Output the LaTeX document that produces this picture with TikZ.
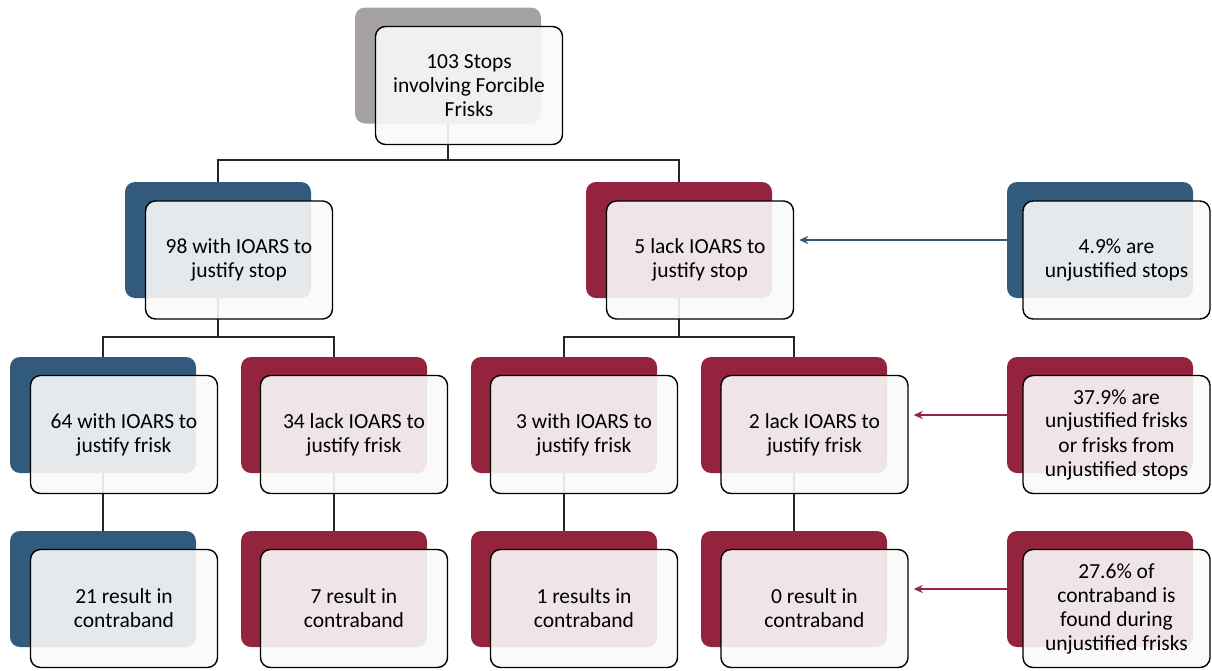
\documentclass[tikz,border=0pt]{standalone}
\usepackage{fontspec}
\setmainfont{Carlito}
\usetikzlibrary{arrows.meta}
\definecolor{navy}{RGB}{50,90,125}
\definecolor{wine}{RGB}{148,35,62}
\definecolor{greyb}{RGB}{166,162,162}
\definecolor{frontfill}{RGB}{249,249,249}
\begin{document}
\begin{tikzpicture}[x=1pt,y=-1pt,
  back/.style={rounded corners=10pt, minimum width=186pt, minimum height=116pt, inner sep=0pt, fill=#1},
  front/.style={draw=black, line width=1.4pt, rounded corners=10pt, fill=frontfill, fill opacity=0.9, text opacity=1, minimum width=187pt, minimum height=118pt, align=center, font=\fontsize{21.5}{24}\selectfont, text=black, inner sep=1pt},
  conn/.style={line width=1.2pt, draw=black!85},
  arr/.style={line width=1.8pt, draw=#1, -{Stealth[length=9pt,width=8pt]}, shorten >=5pt}]
\useasboundingbox (0,0) rectangle (1212,670);
\coordinate (y1) at (0,160);
\coordinate (y2) at (0,337);
% back shapes
\node[back=greyb] (bt) at (448,65.5) {};
\node[back=navy] (ba) at (218,240) {};
\node[back=wine] (bb) at (679,240) {};
\node[back=navy] (br1) at (1100,240) {};
\node[back=navy] (bc) at (103,415) {};
\node[back=wine] (bd) at (334,415) {};
\node[back=wine] (be) at (564,415) {};
\node[back=wine] (bf) at (794,415) {};
\node[back=wine] (br2) at (1100,415) {};
\node[back=navy] (bg) at (103,589) {};
\node[back=wine] (bh) at (334,589) {};
\node[back=wine] (bi) at (564,589) {};
\node[back=wine] (bj) at (794,589) {};
\node[back=wine] (br3) at (1100,589) {};
% connectors
\draw[conn] (bt.south) -- (bt.south |- y1) -| (ba.north);
\draw[conn] (bt.south |- y1) -| (bb.north);
\draw[conn] (ba.south) -- (ba.south |- y2) -| (bc.north);
\draw[conn] (ba.south |- y2) -| (bd.north);
\draw[conn] (bb.south) -- (bb.south |- y2) -| (be.north);
\draw[conn] (bb.south |- y2) -| (bf.north);
\draw[conn] (bc.south) -- (bg.north);
\draw[conn] (bd.south) -- (bh.north);
\draw[conn] (be.south) -- (bi.north);
\draw[conn] (bf.south) -- (bj.north);
% front boxes
\node[front] (ft) at (469,85.5) {103 Stops\\involving Forcible\\Frisks};
\node[front] (fa) at (239,260) {98 with IOARS to\\justify stop};
\node[front] (fb) at (700,260) {5 lack IOARS to\\justify stop};
\node[front] (fr1) at (1116.5,260) {4.9\% are\\unjustified stops};
\node[front] (fc) at (124,434.5) {64 with IOARS to\\justify frisk};
\node[front] (fd) at (354,434.5) {34 lack IOARS to\\justify frisk};
\node[front] (fe) at (584,434.5) {3 with IOARS to\\justify frisk};
\node[front] (ff) at (814.5,434.5) {2 lack IOARS to\\justify frisk};
\node[front] (fr2) at (1116.5,434.5) {37.9\% are\\unjustified frisks\\or frisks from\\unjustified stops};
\node[front] (fg) at (124,608.5) {21 result in\\contraband};
\node[front] (fh) at (354,608.5) {7 result in\\contraband};
\node[front] (fi) at (584,608.5) {1 results in\\contraband};
\node[front] (fj) at (814.5,608.5) {0 result in\\contraband};
\node[front] (fr3) at (1116.5,608.5) {27.6\% of\\contraband is\\found during\\unjustified frisks};
% arrows
\draw[arr=navy] (br1.west) -- (br1.west -| fb.east);
\draw[arr=wine] (br2.west) -- (br2.west -| ff.east);
\draw[arr=wine] (br3.west) -- (br3.west -| fj.east);
\end{tikzpicture}
\end{document}
